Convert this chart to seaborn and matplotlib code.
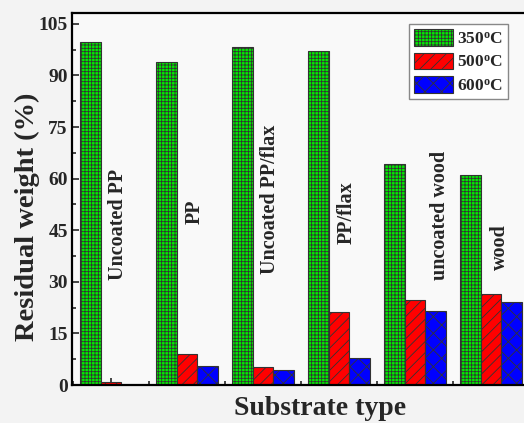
import matplotlib
matplotlib.use("Agg")
import matplotlib.pyplot as plt
import seaborn as sns
import pandas as pd
from matplotlib.patches import Patch
from matplotlib.ticker import MultipleLocator, FixedLocator

categories = ["Uncoated PP", "PP", "Uncoated PP/flax", "PP/flax", "uncoated wood", "wood"]
temps = ["350$^{\\mathrm{o}}$C", "500$^{\\mathrm{o}}$C", "600$^{\\mathrm{o}}$C"]
t350 = [99.8, 94.0, 98.3, 97.0, 64.3, 61.1]
t500 = [0.8, 8.9, 5.3, 21.2, 24.7, 26.5]
t600 = [0.0, 5.5, 4.3, 7.8, 21.6, 24.0]
yticks = [0, 15, 30, 45, 60, 75, 90, 105]

colors = ["#00ee00", "#ff0000", "#0000ff"]
hatches = ["+++++", "///", "xx"]

sns.set_style("ticks")
plt.rcParams["font.family"] = ["Liberation Serif", "DejaVu Serif"]
plt.rcParams["font.weight"] = "bold"
plt.rcParams["mathtext.fontset"] = "custom"
plt.rcParams["mathtext.rm"] = "Liberation Serif:bold"
plt.rcParams["mathtext.it"] = "Liberation Serif:bold"
plt.rcParams["mathtext.bf"] = "Liberation Serif:bold"
plt.rcParams["hatch.linewidth"] = 0.6

rows = []
for vals, t in zip([t350, t500, t600], temps):
    for c, v in zip(categories, vals):
        rows.append({"Substrate": c, "Temp": t, "Value": v})
df = pd.DataFrame(rows)

fig = plt.figure(figsize=(5.24, 4.23), dpi=100, facecolor="#f3f3f3")
ax = fig.add_axes([72 / 524, 38 / 423, 457 / 524, 371.5 / 423])
ax.set_facecolor("#f9f9f9")

sns.barplot(data=df, x="Substrate", y="Value", hue="Temp", order=categories,
            hue_order=temps, palette=colors, width=0.81, edgecolor="#333333",
            linewidth=0.8, saturation=1, legend=False, ax=ax)

for cont, h in zip(ax.containers, hatches):
    for bar in cont:
        bar.set_hatch(h)

ax.set_xlim(-0.51, 5.5)
ax.set_ylim(0, 108)
ax.yaxis.set_major_locator(FixedLocator(yticks))
ax.yaxis.set_minor_locator(MultipleLocator(7.5))
ax.xaxis.set_major_locator(FixedLocator(range(len(categories))))
ax.xaxis.set_minor_locator(FixedLocator([i + 0.5 for i in range(-1, len(categories))]))
ax.set_xticklabels([])
ax.set_yticklabels([str(v) for v in yticks], fontsize=14, fontweight="bold")
ax.tick_params(axis="both", which="major", direction="in", length=5, width=1.2, pad=3)
ax.tick_params(axis="both", which="minor", direction="in", length=3, width=1.2)
for s in ax.spines.values():
    s.set_linewidth(1.6)
    s.set_color("black")
ax.set_xlabel("")
ax.set_ylabel("")

label_pos = [(0.09, 46.6), (1.105, 50.4), (2.09, 53.9), (3.105, 50.0), (4.33, 49.2), (5.12, 40.2)]
for c, (x, y) in zip(categories, label_pos):
    ax.text(x, y, c, rotation=90, ha="center", va="center", fontsize=14.5, fontweight="bold")

fig.text(27 / 524, 1 - 216.5 / 423, "Residual weight (%)", rotation=90, ha="center", va="center",
         fontsize=20.5, fontweight="bold")
fig.text(320 / 524, 1 - 415 / 423, "Substrate type", ha="center", va="baseline",
         fontsize=20, fontweight="bold")

handles = [Patch(facecolor=c, edgecolor="#333333", hatch=h, linewidth=0.8, label=t)
           for c, h, t in zip(colors, hatches, temps)]
leg = ax.legend(handles=handles, loc="upper right", bbox_to_anchor=(508 / 524, 1 - 24 / 423),
                bbox_transform=fig.transFigure, borderaxespad=0, fontsize=12.5,
                handlelength=2.24, handleheight=1.09, handletextpad=0.2, labelspacing=0.3,
                borderpad=0.3, fancybox=False, framealpha=1, edgecolor="#888888",
                prop={"weight": "bold", "size": 12.5})
leg.get_frame().set_linewidth(1.0)

fig.savefig("out.png", dpi=100, facecolor=fig.get_facecolor())
